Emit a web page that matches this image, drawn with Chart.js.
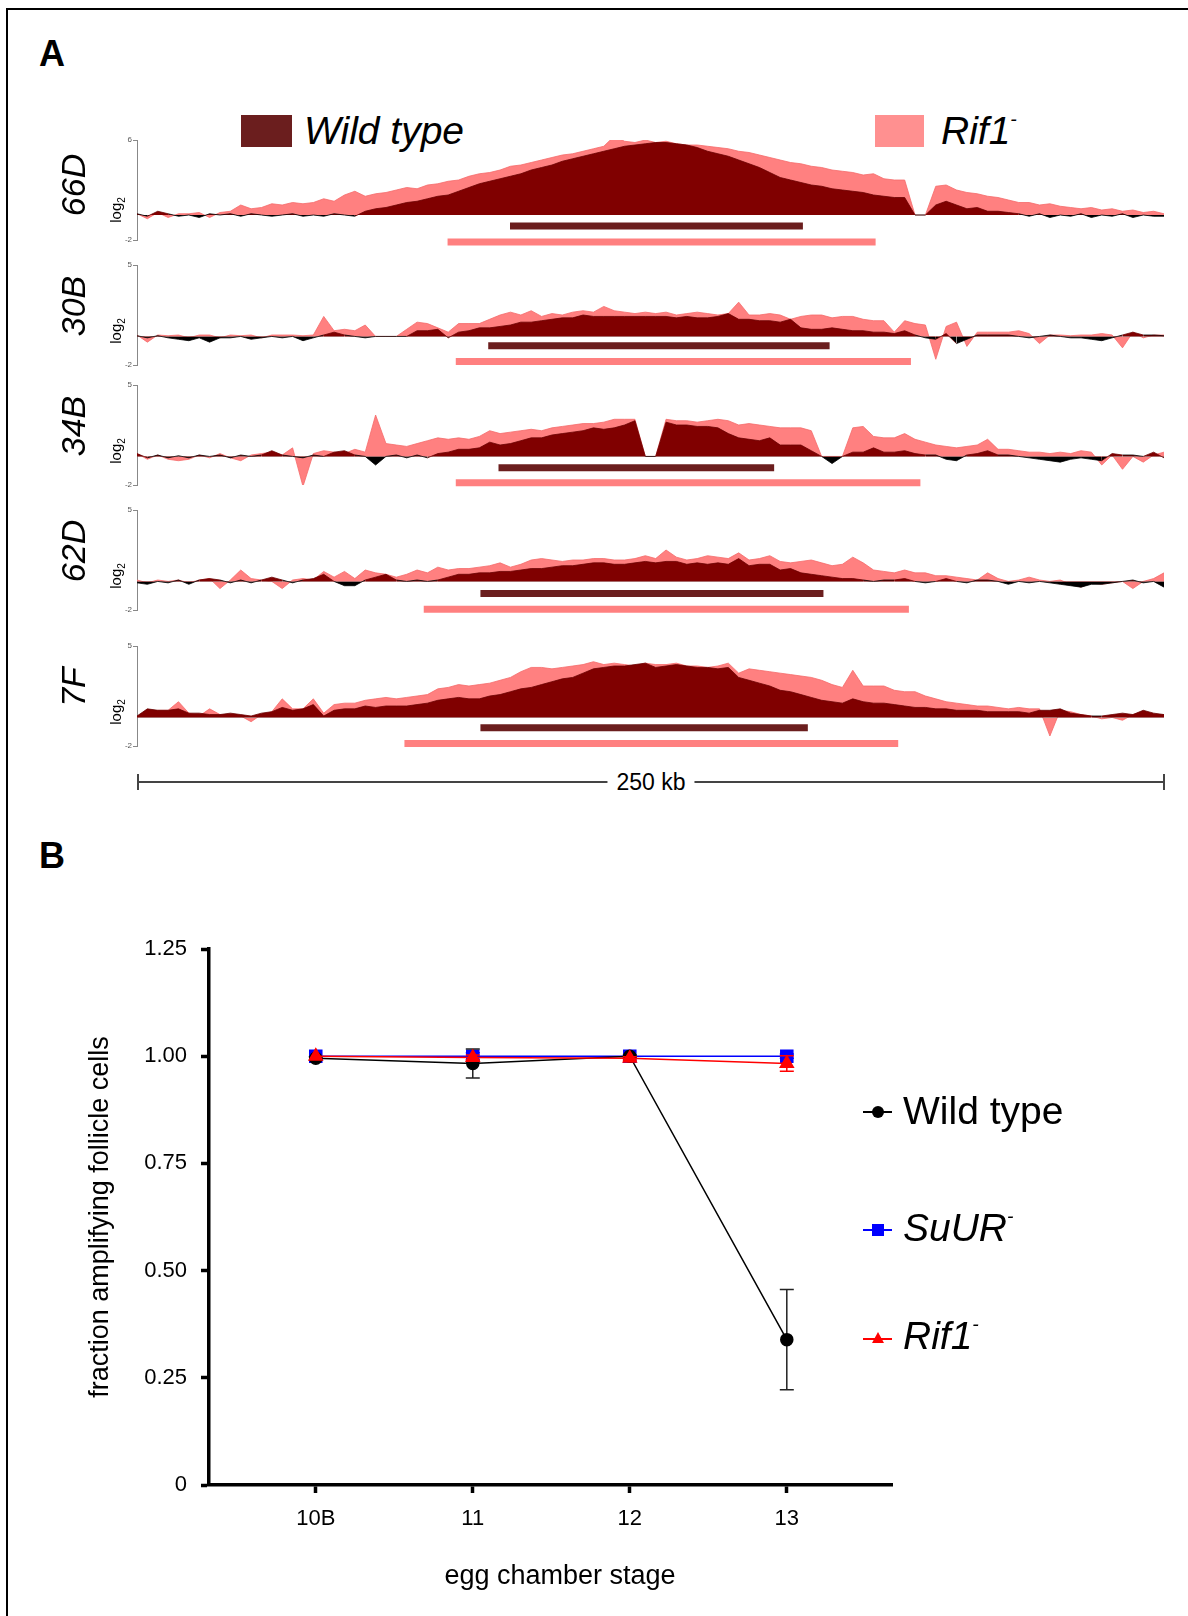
<!DOCTYPE html>
<html>
<head>
<meta charset="utf-8">
<title>Rif1 amplification</title>
<script src="https://cdn.jsdelivr.net/npm/chart.js@4.4.1/dist/chart.umd.min.js"></script>
<style>
  body { margin: 0; background: #fff; }
  #fig { position: relative; width: 1188px; height: 1616px; overflow: hidden; font-family: "Liberation Sans", Arial, sans-serif; color: #000; }
  #fig canvas { position: absolute; }
  .abs { position: absolute; white-space: nowrap; line-height: 1; }
  .frame-top { position: absolute; left: 6px; top: 8px; right: 0; height: 2px; background: #000; }
  .frame-left { position: absolute; left: 6px; top: 8px; bottom: 0; width: 2px; background: #000; }
  .panel { font-weight: bold; font-size: 36px; }
  .track-name { font-style: italic; font-size: 34px; transform: translate(-50%, -50%) rotate(-90deg); }
  .log2 { font-size: 15px; transform: translate(-50%, -50%) rotate(-90deg); }
  .log2 span { font-size: 10px; vertical-align: -4px; }
  .legend-a { font-size: 39px; font-style: italic; transform: translateY(-50%); }
  .legend-b { font-size: 39px; transform: translateY(-50%); }
  sup { font-size: 0.5em; vertical-align: 0.9em; }
</style>
</head>
<body>
<div id="fig">
  <div class="frame-top"></div>
  <div class="frame-left"></div>

  <div class="abs panel" style="left:39px; top:36px;">A</div>
  <div class="abs panel" style="left:39px; top:838px;">B</div>

  <div class="abs" style="left:241px; top:115px; width:51px; height:32px; background:#6b1e1e;"></div>
  <div class="abs legend-a" style="left:304px; top:130px;">Wild type</div>
  <div class="abs" style="left:875px; top:115px; width:49px; height:32px; background:#ff9090;"></div>
  <div class="abs legend-a" style="left:941px; top:130px;">Rif1<sup>-</sup></div>

  <div class="abs" style="left:137px; top:781px; width:1027px; height:1.5px; background:#444;"></div>
  <div class="abs" style="left:137px; top:774px; width:1.5px; height:16px; background:#444;"></div>
  <div class="abs" style="left:1163px; top:774px; width:1.5px; height:16px; background:#444;"></div>
  <div class="abs" style="left:651px; top:782px; transform:translate(-50%,-50%); background:#fff; padding:0 9px; font-size:23px;">250 kb</div>

  <canvas id="stage-chart" width="1188" height="736" style="left:0; top:880px;"></canvas>

  <div class="abs" style="left:863px; top:1111px; width:29px; height:1.5px; background:#000;"></div>
  <div class="abs" style="left:872px; top:1106px; width:12px; height:12px; border-radius:50%; background:#000;"></div>
  <div class="abs legend-b" style="left:903px; top:1110px;">Wild type</div>
  <div class="abs" style="left:863px; top:1229px; width:29px; height:1.5px; background:#0000ff;"></div>
  <div class="abs" style="left:872px; top:1224px; width:12px; height:12px; background:#0000ff;"></div>
  <div class="abs legend-b" style="left:903px; top:1227px; font-style:italic;">SuUR<sup>-</sup></div>
  <div class="abs" style="left:863px; top:1338px; width:29px; height:1.5px; background:#ff0000;"></div>
  <div class="abs" style="left:872px; top:1332px; width:0; height:0; border-left:6px solid transparent; border-right:6px solid transparent; border-bottom:11px solid #ff0000;"></div>
  <div class="abs legend-b" style="left:903px; top:1335px; font-style:italic;">Rif1<sup>-</sup></div>
</div>

<script>
// ---- panel A: log2 ratio tracks, 100 bins across 250 kb ----
const trackNames = ["66D", "30B", "34B", "62D", "7F"];
const trackMax = [6, 5, 5, 5, 5];

const wt66D = [0.1,-0.1,0.3,0.1,-0.1,0,-0.2,0.1,0,0.1, -0.1,0.1,0,-0.1,0,0.1,-0.1,0,-0.1,0.1,
  0,-0.1,0.3,0.5,0.6,0.8,1.0,1.1,1.3,1.5, 1.6,1.9,2.2,2.5,2.7,2.9,3.1,3.3,3.6,3.8,
  4.0,4.3,4.5,4.7,4.9,5.1,5.3,5.5,5.6,5.7, 5.8,5.8,5.7,5.6,5.4,5.1,4.9,4.7,4.4,4.1,
  3.8,3.4,3.0,2.8,2.6,2.4,2.3,2.1,2.0,1.9, 1.8,1.6,1.5,1.4,1.4,0,0,0.8,1.1,0.8,
  0.5,0.6,0.3,0.3,0.2,0.1,-0.1,0.1,-0.2,0, -0.1,0.1,-0.2,0,-0.1,0.1,-0.2,0,-0.1,-0.1];
const rif66D = [0.1,-0.3,0.2,-0.2,0.1,0.1,0.2,-0.2,0.2,0.3, 0.8,0.5,0.6,0.9,0.8,1.0,0.9,1.0,1.3,1.1,
  1.6,1.9,1.5,1.7,1.8,2.0,2.2,2.1,2.4,2.5, 2.7,2.8,3.1,3.3,3.4,3.6,3.9,4.0,4.2,4.4,
  4.6,4.8,4.9,5.1,5.3,5.5,6.3,5.9,5.8,6.0, 5.8,5.9,5.7,5.6,5.6,5.5,5.4,5.3,5.1,5.0,
  4.8,4.6,4.4,4.2,4.1,3.9,3.8,3.6,3.5,3.4, 3.2,3.3,2.9,2.8,2.8,0,0,2.3,2.4,2.0,
  1.8,1.7,1.5,1.4,1.2,1.0,1.0,0.8,0.9,0.7, 0.6,0.5,0.6,0.4,0.5,0.3,0.4,0.2,0.3,0.1];

const wt30B = [0.05,-0.1,0.05,-0.1,-0.2,-0.3,-0.1,-0.4,-0.1,-0.1, 0,-0.2,-0.1,0,-0.1,0,-0.3,-0.1,0.1,0.3,
  0.1,0,-0.1,0,0,0,0,0.4,0.4,0.5, -0.1,0.3,0.4,0.6,0.6,0.7,0.8,1.0,1.0,1.1,
  1.2,1.3,1.3,1.5,1.4,1.4,1.4,1.4,1.4,1.4, 1.4,1.4,1.3,1.4,1.3,1.3,1.4,1.6,1.2,1.2,
  1.1,1.1,1.0,1.2,0.6,0.5,0.5,0.6,0.5,0.4, 0.4,0.3,0.3,0.2,0.4,0.1,-0.1,-0.2,0.2,-0.5,
  -0.2,0.1,0.1,0.1,0.1,0,-0.1,0,0.1,0, -0.1,-0.1,-0.2,-0.3,-0.1,0.1,0.3,0.1,0.1,0.05];
const rif30B = [0.1,-0.4,0.1,0.05,0.1,-0.1,0.1,0.1,-0.1,0.1, 0.05,0.1,-0.1,0.1,0.1,0.1,0.05,0.1,1.4,0.4,
  0.5,0.4,0.8,0,0,0,0.5,1.0,0.9,0.6, 0.3,0.9,0.9,0.9,1.2,1.5,1.7,1.5,1.8,1.4,
  1.6,1.5,1.7,1.8,1.7,2.1,1.8,1.7,1.6,1.7, 1.6,1.7,1.5,1.6,1.7,1.6,1.5,1.6,2.4,1.5,
  1.5,1.6,1.5,1.2,1.4,1.5,1.5,1.3,1.4,1.4, 1.2,1.1,1.1,0.3,1.1,0.9,0.8,-1.6,0.7,1.0,
  -0.7,0.3,0.3,0.3,0.3,0.4,0.2,-0.5,0.1,0.1, 0.05,0.1,0.1,0.2,0.1,-0.8,0.3,-0.1,0.1,0.1];

const wt34B = [0.2,-0.1,0.1,-0.1,0.05,-0.1,0.1,0,0.1,-0.1, 0.1,0,0.1,0.4,0.1,0,-0.1,0.1,0,0.3,
  0.4,0.1,0,-0.6,0,0.1,-0.1,0.1,-0.1,0.2, 0.3,0.5,0.5,0.6,1.0,0.8,0.9,1.1,1.3,1.3,
  1.5,1.6,1.7,1.8,2.0,1.9,2.0,2.2,2.5,0, 0,2.4,2.2,2.2,2.1,2.1,2.0,1.6,1.3,1.2,
  1.1,1.3,0.8,0.8,0.8,0.4,0,-0.5,0,0.3, 0.3,0.6,0.3,0.3,0.4,0.2,0.1,0.1,-0.2,-0.3,
  0.1,0.2,0.4,0.1,0.1,0,-0.1,-0.2,-0.3,-0.4, -0.2,-0.1,-0.2,-0.3,0.2,0.1,0.1,0,0.3,-0.1];
const rif34B = [0.2,-0.2,0.1,-0.2,-0.3,-0.2,0.1,-0.1,0.2,-0.1, -0.3,0.1,0.2,0.3,0.1,0.6,-2.1,0.2,0.4,0.3,
  0.2,0.5,0.3,2.9,0.9,0.8,0.7,0.9,1.1,1.3, 1.2,1.3,1.2,1.4,1.8,1.6,1.7,1.8,1.9,1.8,
  2.0,2.1,2.2,2.3,2.3,2.4,2.6,2.6,2.6,0, 0,2.6,2.5,2.5,2.4,2.5,2.6,2.5,2.2,2.3,
  2.2,2.1,2.0,2.0,2.0,1.8,0,0,0,2.0, 2.1,1.4,1.3,1.3,1.6,1.2,1.0,0.8,0.7,0.6,
  0.7,0.8,1.2,0.5,0.5,0.4,0.3,0.3,0.2,0.3, 0.2,0.4,0.3,-0.6,0.1,-0.9,0,-0.4,0.1,0.3];

const wt62D = [-0.1,-0.2,0,-0.1,0.1,-0.2,0.1,0.2,0.1,-0.1, 0.1,-0.1,0.1,0.3,0.1,-0.1,0.1,0.2,0.5,0,
  -0.3,-0.3,0.1,0.3,0.5,0.1,0,0.1,0,0.1, 0.3,0.5,0.5,0.6,0.6,0.7,0.7,0.8,0.9,0.9,
  1.0,1.1,1.1,1.2,1.3,1.3,1.2,1.2,1.3,1.4, 1.3,1.4,1.4,1.2,1.3,1.2,1.3,1.2,1.6,1.1,
  1.2,1.2,0.8,0.9,0.6,0.5,0.4,0.3,0.2,0.2, 0.1,0,0.1,0.1,0.2,0,-0.1,0,0.2,0,
  -0.1,0.1,0.1,0,-0.2,0,-0.1,0,-0.1,-0.2, -0.3,-0.4,-0.2,-0.2,-0.1,0,0.1,-0.1,0,-0.4];
const rif62D = [0.1,-0.1,0.1,0,0.1,-0.1,0.1,0.2,-0.5,0.1, 0.8,0.2,0.1,0,-0.5,0.1,0.2,0.1,0.7,0.3,
  0.7,0.2,0.8,0.6,0.5,0.3,0.5,0.8,0.6,1.0, 0.8,0.9,0.9,1.0,1.1,1.3,1.0,1.2,1.5,1.6,
  1.5,1.4,1.5,1.5,1.6,1.6,1.5,1.5,1.6,1.8, 1.6,2.2,1.7,1.5,1.6,1.8,1.7,1.6,2.0,1.5,
  1.6,1.8,1.4,1.3,1.4,1.5,1.3,1.1,1.2,1.7, 1.3,0.8,0.7,0.6,0.8,0.6,0.6,0.4,0.4,0.3,
  0.2,0.1,0.6,0.2,0,0.1,0.3,0.1,0,0.1, -0.2,-0.4,-0.1,-0.2,-0.1,0,-0.5,0,0.2,0.6];

const wt7F = [0.1,0.6,0.5,0.5,0.6,0.3,0.3,0.2,0.2,0.3, 0.2,0.1,0.3,0.4,0.7,0.5,0.6,0.9,0.1,0.5,
  0.6,0.6,0.8,0.7,0.8,0.8,0.8,0.9,1.0,1.2, 1.3,1.4,1.3,1.3,1.5,1.6,1.8,2.0,2.1,2.3,
  2.5,2.7,2.8,3.1,3.4,3.5,3.6,3.6,3.7,3.8, 3.5,3.6,3.7,3.6,3.5,3.5,3.4,3.5,2.8,2.6,
  2.4,2.2,1.9,1.8,1.6,1.4,1.2,1.1,1.0,1.3, 1.1,1.0,1.0,0.9,0.8,0.7,0.7,0.6,0.6,0.5,
  0.5,0.5,0.4,0.4,0.4,0.4,0.3,0.5,0.5,0.6, 0.3,0.2,0.1,0.1,0.2,0.3,0.2,0.5,0.3,0.2];
const rif7F = [0,0.4,0.5,0.5,1.1,0.3,0.1,0.6,0.2,0.2, 0.1,-0.3,0.2,0.4,1.3,0.6,0.6,1.3,0.3,0.9,
  1.0,1.0,1.2,1.3,1.4,1.3,1.4,1.5,1.6,2.0, 2.1,2.3,2.2,2.3,2.4,2.6,2.8,3.2,3.5,3.5,
  3.4,3.5,3.6,3.7,3.9,3.7,3.8,3.7,3.6,3.8, 3.7,3.7,3.8,3.6,3.6,3.5,3.6,3.8,3.1,3.4,
  3.3,3.2,3.1,3.0,2.9,2.8,2.6,2.3,2.1,3.3, 2.2,2.2,2.2,1.9,1.8,1.8,1.5,1.3,1.1,1.0,
  0.9,0.8,0.8,0.7,0.6,0.7,0.6,0.6,-1.3,0.5, 0.4,0.2,0.1,-0.1,0,-0.2,0.2,0.4,0.2,0.2];

const wildTypeTracks = [wt66D, wt30B, wt34B, wt62D, wt7F];
const rif1Tracks = [rif66D, rif30B, rif34B, rif62D, rif7F];

// amplified domains (kb from left edge)
const wildTypeDomains = [[90.8, 162.1], [85.5, 168.6], [88.0, 155.1], [83.6, 167.1], [83.6, 163.3]];
const rif1Domains = [[75.6, 179.8], [77.6, 188.4], [77.6, 190.7], [69.8, 187.9], [65.1, 185.3]];

// ---- panel B: fraction of amplifying follicle cells ----
const stages = ["10B", "11", "12", "13"];
const fractionTicks = [0, 0.25, 0.5, 0.75, 1.0, 1.25];
const wildType = [0.995, 0.983, 1.0, 0.339];
const wildTypeErr = [0.004, 0.034, 0.003, 0.117];
const suur = [1.0, 1.0, 1.0, 1.0];
const suurErr = [0, 0.008, 0, 0.005];
const rif1 = [1.0, 0.997, 0.995, 0.983];
const rif1Err = [0, 0.006, 0.004, 0.018];

const GENOME_KB = 250;
const fig = document.getElementById("fig");

// layout of the five tracks (top of the y axis in page px) and the level of the domain bars
const trackTop = [140, 265, 385, 510, 646];
const barLevels = [[-0.88, -2.16], [-0.65, -1.75], [-0.8, -1.85], [-0.85, -1.95], [-0.72, -1.82]];

function binsToPoints(values) {
  return values.map((v, i) => ({ x: i * GENOME_KB / (values.length - 1), y: v }));
}

function domainLine(span, level) {
  return [{ x: span[0], y: level }, { x: span[1], y: level }];
}

function addText(cls, html, left, top) {
  const el = document.createElement("div");
  el.className = "abs " + cls;
  el.innerHTML = html;
  el.style.left = left + "px";
  el.style.top = top + "px";
  fig.appendChild(el);
}

trackNames.forEach((name, t) => {
  const canvas = document.createElement("canvas");
  canvas.width = 1100;
  canvas.height = 130;
  canvas.style.left = "87px";
  canvas.style.top = (trackTop[t] - 10) + "px";
  fig.appendChild(canvas);

  const top = trackMax[t];

  const chart = new Chart(canvas, {
    type: "line",
    data: {
      datasets: [
        {
          label: "Wild type",
          data: binsToPoints(wildTypeTracks[t]),
          fill: { target: "origin", above: "#800000", below: "#000000" },
          borderWidth: 0.8,
          segment: {
            borderColor: c => (c.p0.parsed.y <= 0.15 && c.p1.parsed.y <= 0.15) ? "#000000" : "#6a0000"
          },
          pointRadius: 0,
          tension: 0
        },
        {
          label: "Rif1-",
          data: binsToPoints(rif1Tracks[t]),
          fill: { target: "origin", above: "#ff8080", below: "#ff8080" },
          borderColor: "#f56a6a",
          borderWidth: 0.8,
          pointRadius: 0,
          tension: 0
        },
        {
          label: "Wild type domain",
          data: domainLine(wildTypeDomains[t], barLevels[t][0]),
          borderColor: "#6b1e1e",
          borderWidth: 7,
          borderCapStyle: "butt",
          pointRadius: 0,
          clip: false
        },
        {
          label: "Rif1- domain",
          data: domainLine(rif1Domains[t], barLevels[t][1]),
          borderColor: "#ff8080",
          borderWidth: 7,
          borderCapStyle: "butt",
          pointRadius: 0,
          clip: false
        }
      ]
    },
    options: {
      responsive: false,
      animation: false,
      events: [],
      layout: { padding: { top: 10, bottom: 20, left: 0, right: 23 } },
      plugins: { legend: { display: false }, tooltip: { enabled: false } },
      scales: {
        x: { type: "linear", min: 0, max: GENOME_KB, display: false },
        y: {
          min: -2,
          max: top,
          afterBuildTicks: axis => { axis.ticks = [{ value: -2 }, { value: top }]; },
          afterFit: scale => { scale.width = 50; },
          grid: { drawOnChartArea: false, tickLength: 4, color: "#888" },
          border: { color: "#888", width: 1 },
          ticks: { font: { size: 8, family: "Liberation Sans" }, color: "#555", padding: 1 }
        }
      }
    }
  });

  const zeroY = trackTop[t] - 10 + chart.scales.y.getPixelForValue(0);
  addText("track-name", name, 73, zeroY - 30);
  addText("log2", "log<span>2</span>", 117, zeroY - 5);
});

// ---- panel B chart ----
const errorBars = {
  id: "errorBars",
  beforeDatasetDraw(chart, args) {
    const ds = chart.data.datasets[args.index];
    if (!ds.errors) return;
    const ctx = chart.ctx;
    const yScale = chart.scales.y;
    ctx.save();
    ctx.strokeStyle = ds.errorColor || ds.borderColor;
    ctx.lineWidth = 1.5;
    args.meta.data.forEach((pt, i) => {
      const e = ds.errors[i];
      if (!e) return;
      const v = ds.data[i].y;
      const hi = yScale.getPixelForValue(v + e);
      const lo = yScale.getPixelForValue(v - e);
      ctx.beginPath();
      ctx.moveTo(pt.x, hi); ctx.lineTo(pt.x, lo);
      ctx.moveTo(pt.x - 7, hi); ctx.lineTo(pt.x + 7, hi);
      ctx.moveTo(pt.x - 7, lo); ctx.lineTo(pt.x + 7, lo);
      ctx.stroke();
    });
    ctx.restore();
  }
};

function stagePoints(values) {
  return values.map((v, i) => ({ x: i, y: v }));
}

new Chart(document.getElementById("stage-chart"), {
  type: "line",
  data: {
    datasets: [
      {
        label: "Rif1-",
        data: stagePoints(rif1),
        errors: rif1Err,
        borderColor: "#ff0000",
        backgroundColor: "#ff0000",
        pointStyle: "triangle",
        pointRadius: 7.5,
        borderWidth: 1.5,
        tension: 0
      },
      {
        label: "Wild type",
        data: stagePoints(wildType),
        errors: wildTypeErr,
        errorColor: "#222",
        borderColor: "#000000",
        backgroundColor: "#000000",
        pointStyle: "circle",
        pointRadius: 6,
        borderWidth: 1.5,
        tension: 0
      },
      {
        label: "SuUR-",
        data: stagePoints(suur),
        errors: suurErr,
        borderColor: "#0000ff",
        backgroundColor: "#0000ff",
        pointStyle: "rect",
        pointRadius: 8.5,
        borderWidth: 1.5,
        tension: 0
      }
    ]
  },
  options: {
    responsive: false,
    animation: false,
    events: [],
    layout: { padding: { top: 69, right: 296, left: 0, bottom: 0 } },
    plugins: { legend: { display: false }, tooltip: { enabled: false } },
    scales: {
      x: {
        type: "linear",
        min: -0.68,
        max: 3.67,
        afterBuildTicks: axis => { axis.ticks = stages.map((s, i) => ({ value: i })); },
        afterFit: scale => { scale.height = 131; },
        ticks: {
          callback: v => stages[v],
          font: { size: 22, family: "Liberation Sans" },
          color: "#000",
          padding: 13,
          maxRotation: 0
        },
        grid: { drawOnChartArea: false, tickLength: 8, tickWidth: 3.5, color: "#000" },
        border: { width: 3.5, color: "#000" },
        title: {
          display: true,
          text: "\u2002\u2009egg chamber stage",
          font: { size: 27, family: "Liberation Sans" },
          color: "#000",
          padding: { top: 0, bottom: 23 }
        }
      },
      y: {
        min: 0,
        max: 1.25,
        afterBuildTicks: axis => { axis.ticks = fractionTicks.map(v => ({ value: v })); },
        afterFit: scale => { scale.width = 209; },
        ticks: {
          callback: v => v === 0 ? "0" : v.toFixed(2),
          font: { size: 22, family: "Liberation Sans" },
          color: "#000",
          padding: 14
        },
        grid: { drawOnChartArea: false, tickLength: 8, tickWidth: 3.5, color: "#000" },
        border: { width: 3.5, color: "#000" },
        title: {
          display: true,
          text: "fraction amplifying follicle cells",
          font: { size: 27, family: "Liberation Sans" },
          color: "#000",
          padding: { top: 84, bottom: 0 }
        }
      }
    }
  },
  plugins: [errorBars]
});
</script>
</body>
</html>
